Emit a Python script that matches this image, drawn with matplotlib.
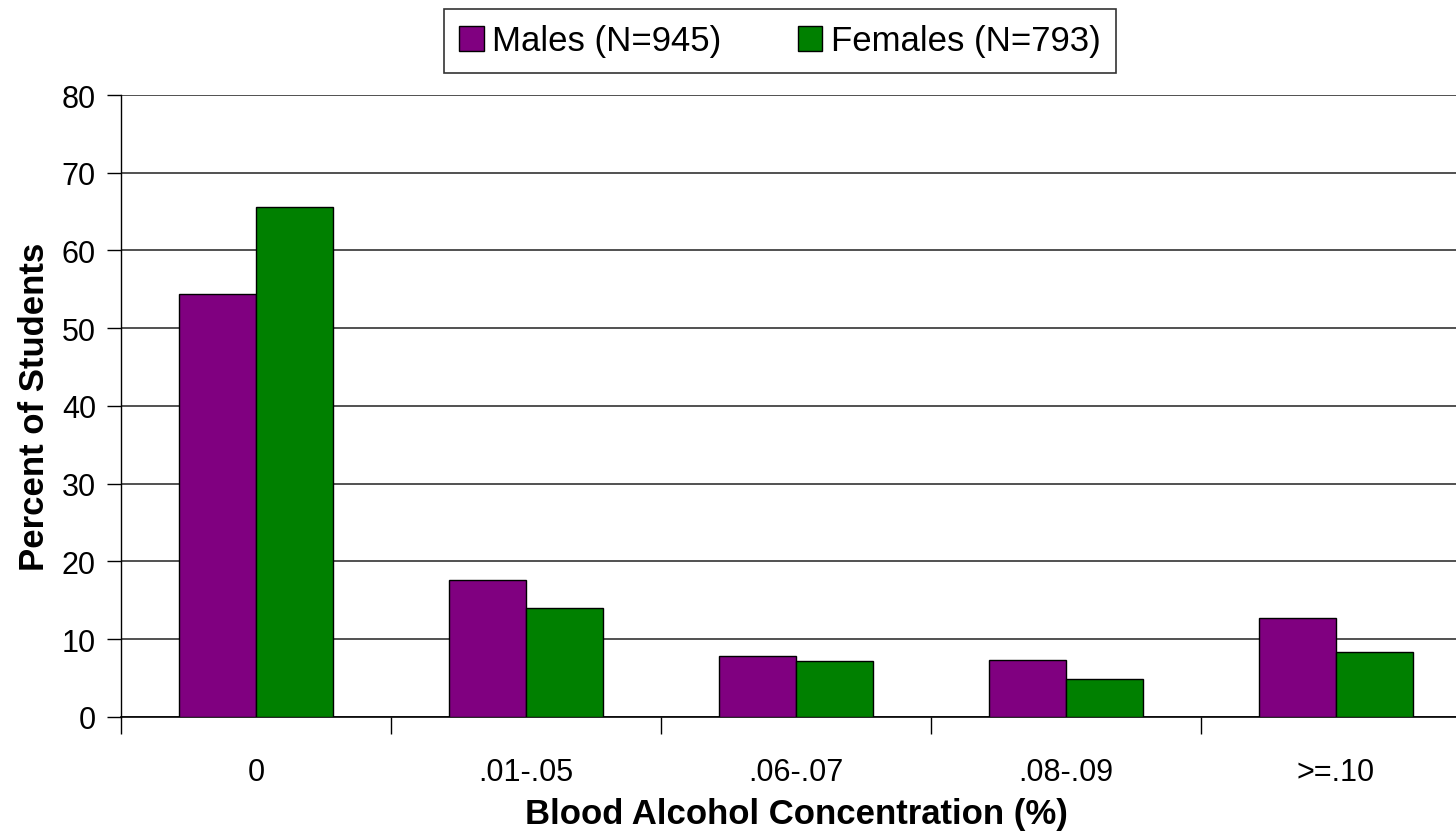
import numpy as np
import matplotlib.pyplot as plt

categories = ['0', '.01-.05', '.06-.07', '.08-.09', '>=.10']
males = [54.4, 17.6, 7.8, 7.3, 12.7]
females = [65.6, 14.0, 7.2, 4.9, 8.4]
series_labels = ['Males (N=945)', 'Females (N=793)']

plt.rcParams['font.family'] = ['Liberation Sans', 'DejaVu Sans']

fig = plt.figure(figsize=(14.56, 8.37), dpi=100)
ax = fig.add_axes([0.0831, 0.1422, 0.9272, 0.7431])

x = np.arange(len(categories))
width = 0.286
b1 = ax.bar(x - width / 2, males, width, color='#800080', edgecolor='black', linewidth=1, zorder=3)
b2 = ax.bar(x + width / 2, females, width, color='#008000', edgecolor='black', linewidth=1, zorder=3)

ax.set_xlim(-0.5, len(categories) - 0.5)
ax.set_ylim(0, 80)
ax.set_yticks(np.arange(0, 81, 10))
ax.yaxis.grid(True, color='#333333', linewidth=1.2, zorder=0)
ax.set_axisbelow(True)

# category labels at the centres, tick marks between the groups
ax.set_xticks(x)
ax.set_xticklabels(categories, fontsize=22)
ax.set_xticks(np.arange(-0.5, len(categories), 1), minor=True)
ax.tick_params(axis='x', which='major', length=0, pad=29)
ax.tick_params(axis='x', which='minor', length=12, width=1, direction='out')
ax.tick_params(axis='y', labelsize=22, length=10, width=1, direction='out', pad=8)

for s in ['top', 'right']:
    ax.spines[s].set_visible(False)
ax.spines['left'].set_linewidth(1)
ax.spines['bottom'].set_linewidth(1.2)

ax.set_xlabel('Blood Alcohol Concentration (%)', fontsize=25, fontweight='bold')
ax.xaxis.set_label_coords(0.5, -0.128)
ax.set_ylabel('Percent of Students', fontsize=25, fontweight='bold')
ax.yaxis.set_label_coords(-0.052, 0.5)

leg = fig.legend([b1, b2], series_labels, loc='center', bbox_to_anchor=(0.5357, 0.95), ncol=2,
                 fontsize=25, frameon=True, fancybox=False, edgecolor='black',
                 handlelength=0.7, handleheight=0.75, handletextpad=0.25, columnspacing=2.2,
                 borderpad=0.45, borderaxespad=0)
leg.get_frame().set_linewidth(1.2)

fig.savefig('out.png', dpi=100)
